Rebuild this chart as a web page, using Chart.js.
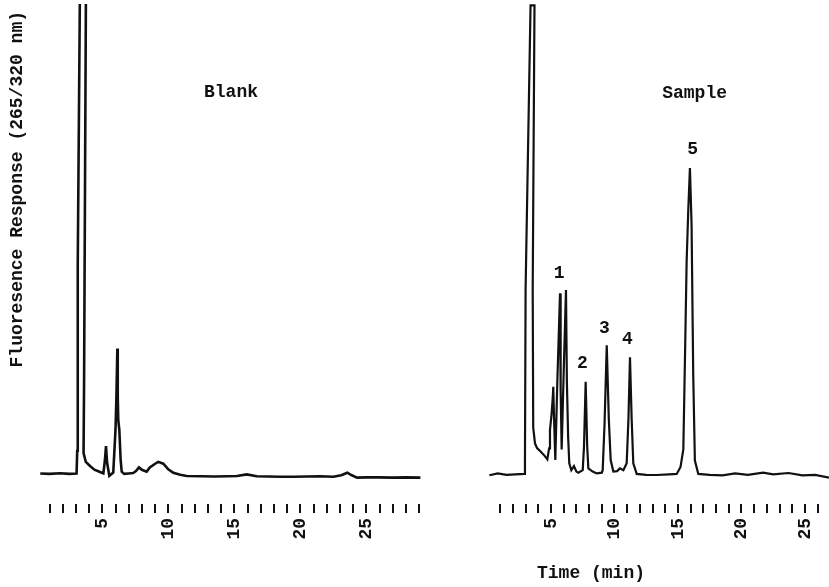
<!doctype html>
<html lang="en">
<head>
<meta charset="UTF-8" />
<title>Blank / Sample chromatograms</title>
<script src="https://cdn.jsdelivr.net/npm/chart.js"></script>
<style>
  html, body { margin: 0; padding: 0; background: #fff; }
  #wrap { position: relative; width: 829px; height: 587px; }
  canvas { position: absolute; top: 0; }
  #blank { left: 0; }
  #sample { left: 440px; }
</style>
</head>
<body>
<div id="wrap">
  <canvas id="blank" width="440" height="587"></canvas>
  <canvas id="sample" width="389" height="587"></canvas>
</div>
<script>
// retention time (min) / detector response (arbitrary units, baseline ~ 0)
const blankTime = [0.3, 1.0, 1.8, 2.5, 3.05, 3.1, 3.14, 3.32, 3.77, 3.62, 3.58, 3.75, 4.07, 4.4, 4.83, 5.08, 5.2, 5.28, 5.36, 5.53, 5.7,
  5.83, 6.0, 6.07, 6.14, 6.17, 6.21, 6.29, 6.39, 6.47, 6.66, 7.0, 7.34, 7.55, 7.78, 8.0, 8.36, 8.6, 9.0, 9.24, 9.62, 10.0, 10.38,
  10.9, 11.4, 12.5, 13.5, 14.5, 15.2, 15.94, 16.7, 17.5, 18.5, 19.5, 20.5, 21.5, 22.5, 23.1, 23.56, 23.9, 24.3, 25.0, 26.0, 27.0, 28.0, 29.1]
const blankResponse = [0.1, 0.0, 0.15, 0.0, 0.1, 5, 45, 110, 110, 20, 4.5, 2.6, 1.7, 0.9, 0.4, 0.1, 3, 6.0, 2.5, -0.4, 0,
  0.3, 9.5, 16.7, 27.1, 16.7, 11.6, 9.5, 3.0, 0.5, 0, 0.1, 0.2, 0.6, 1.4, 0.9, 0.5, 1.4, 2.2, 2.6, 2.2, 1.0, 0.26,
  -0.2, -0.45, -0.5, -0.55, -0.5, -0.45, -0.1, -0.5, -0.55, -0.6, -0.6, -0.55, -0.5, -0.6, -0.3, 0.26, -0.3, -0.8, -0.75, -0.75, -0.8, -0.75, -0.8]

const sampleTime = [0.15, 0.8, 1.5, 2.2, 2.9, 2.95, 3.0, 3.39, 3.70, 3.56, 3.6, 3.74, 3.9, 4.2, 4.5, 4.71, 4.85, 4.92, 5.05, 5.15, 5.18,
  5.24, 5.34, 5.5, 5.71, 5.76, 5.84, 6.0, 6.18, 6.25, 6.35, 6.44, 6.6, 6.81, 7.0, 7.15, 7.5, 7.6, 7.73, 7.85, 7.94, 8.28, 8.6,
  9.0, 9.07, 9.22, 9.39, 9.55, 9.7, 9.91, 10.2, 10.43, 10.7, 10.96, 11.1, 11.22, 11.35, 11.48, 11.75, 12.5, 13.3, 14.3, 14.9,
  15.2, 15.42, 15.55, 15.68, 15.81, 15.94, 16.07, 16.2, 16.33, 16.6, 17.5, 18.5, 19.5, 20.5, 21.7, 22.5, 23.7, 24.8, 25.8, 26.9]
const sampleResponse = [-0.3, 0.1, -0.2, -0.1, 0, 3, 40, 101.2, 101.2, 40, 10, 6.6, 5.6, 4.8, 3.9, 3.15, 5.5, 9.5, 13, 17, 18.8,
  12, 3.0, 20, 39, 18, 5.3, 22, 39.7, 20, 8, 2.3, 0.8, 1.7, 0.5, 0.26, 0.8, 6, 19.9, 6, 1.2, 0.5, 0.1,
  0.26, 0.8, 11, 27.8, 12, 3, 0.5, 0.6, 1.2, 0.8, 2.3, 12, 25.2, 12, 2.3, 0, -0.2, -0.24, -0.1, 0,
  1.5, 5.3, 25, 45.8, 57, 66.1, 53.8, 21.5, 2.9, 0, -0.2, -0.3, 0.1, -0.2, 0.26, -0.1, 0.2, -0.3, -0.2, -0.8]

const tickLabels = ['5', '10', '15', '20', '25']
const blankTickRange = [1, 29]   // first / last minute mark
const sampleTickRange = [1, 26]
const peakNames = ['1', '2', '3', '4', '5']

const ink = '#111'
const mono = '"Liberation Mono", "DejaVu Sans Mono", monospace'
const bold18 = 'bold 18px ' + mono

// text notes placed in data coordinates (t = minutes, v = response) or px from canvas bottom
function notesPlugin(items) {
  return {
    id: 'notes',
    afterDatasetsDraw(chart) {
      const { ctx, scales } = chart
      ctx.save()
      ctx.fillStyle = ink
      ctx.textAlign = 'center'
      ctx.textBaseline = 'middle'
      items.forEach(n => {
        ctx.font = n.font || bold18
        const px = scales.x.getPixelForValue(n.t)
        const py = n.v !== undefined ? scales.y.getPixelForValue(n.v) : chart.height - n.fromBottom
        ctx.fillText(n.text, px, py)
      })
      ctx.restore()
    }
  }
}

function makeChart(id, times, values, opt) {
  const pts = times.map((t, i) => ({ x: t, y: values[i] }))
  const marks = []
  for (let m = opt.ticks[0]; m <= opt.ticks[1]; m++) marks.push(m)
  return new Chart(document.getElementById(id), {
    type: 'line',
    data: {
      datasets: [{
        data: pts,
        borderColor: ink,
        borderWidth: opt.lineWidth,
        pointRadius: 0,
        fill: false,
        tension: 0,
        clip: { left: 10, right: 10, top: 7, bottom: 10 }
      }]
    },
    options: {
      responsive: false,
      animation: false,
      devicePixelRatio: 1,
      layout: { padding: opt.padding },
      plugins: { legend: { display: false }, tooltip: { enabled: false } },
      scales: {
        x: {
          type: 'linear',
          min: 0,
          max: opt.xMax,
          border: { display: false },
          grid: { display: true, drawOnChartArea: false, drawTicks: true, tickLength: 9, color: ink, lineWidth: 2 },
          ticks: {
            autoSkip: false,
            minRotation: 90,
            maxRotation: 90,
            padding: 5,
            color: ink,
            font: { family: mono, size: 18, weight: 'bold' },
            callback: v => tickLabels.includes(String(v)) ? String(v) : ''
          },
          afterBuildTicks: s => { s.ticks = marks.map(v => ({ value: v })) },
          afterFit: s => { s.height = 40; s.paddingLeft = 0; s.paddingRight = 0 }
        },
        y: {
          min: -6.5,
          max: 100,
          display: !!opt.yTitle,
          ticks: { display: false },
          grid: { display: false },
          border: { display: false },
          title: {
            display: !!opt.yTitle,
            text: opt.yTitle || '',
            align: 'end',
            color: ink,
            font: { family: mono, size: 18, weight: 'bold' },
            padding: { top: 6.7, bottom: 0 }
          },
          afterFit: s => { s.width = opt.yTitle ? 36.3 : 0; s.paddingTop = 0; s.paddingBottom = 0 }
        }
      }
    },
    plugins: [notesPlugin(opt.notes)]
  })
}

makeChart('blank', blankTime, blankResponse, {
  xMax: 30,
  ticks: blankTickRange,
  lineWidth: 2.6,
  padding: { left: 0, right: 7.7, top: 11, bottom: 43 },
  yTitle: 'Fluoresence Response (265/320 nm)',
  notes: [{ text: 'Blank', t: 14.75, v: 82.5 }]
})

makeChart('sample', sampleTime, sampleResponse, {
  xMax: 26.6,
  ticks: sampleTickRange,
  lineWidth: 2.2,
  padding: { left: 47.5, right: 3.7, top: 11, bottom: 43 },
  notes: [
    { text: 'Sample', t: 16.31, v: 82.2 },
    { text: peakNames[0], t: 5.65, v: 43.4 },
    { text: peakNames[1], t: 7.48, v: 23.9 },
    { text: peakNames[2], t: 9.2, v: 31.5 },
    { text: peakNames[3], t: 11.01, v: 29.1 },
    { text: peakNames[4], t: 16.16, v: 70.0 },
    { text: 'Time (min)', t: 8.15, fromBottom: 14 }
  ]
})
</script>
</body>
</html>
